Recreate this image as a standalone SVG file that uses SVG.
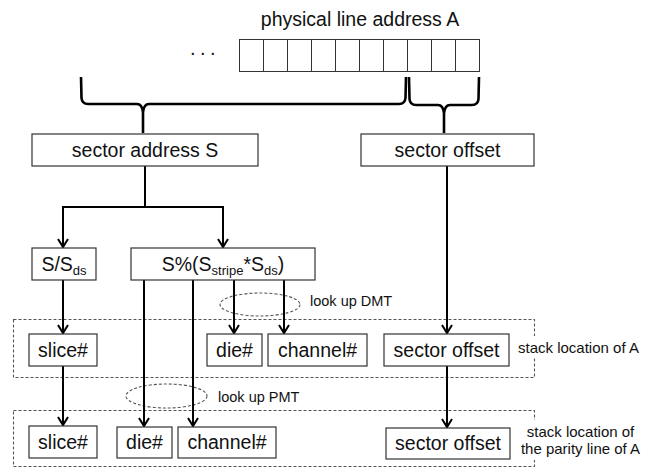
<svg xmlns="http://www.w3.org/2000/svg" width="657" height="468" viewBox="0 0 657 468">
<defs>
<style>
text{font-family:"Liberation Sans",Arial,sans-serif;fill:#111}
.box{fill:#fff;stroke:#333;stroke-width:1.2}
.big{font-size:19.5px;text-anchor:middle}
.sub{font-size:13px}
.lbl{font-size:15px}
.conn{fill:none;stroke:#000;stroke-width:2}
.brace{fill:none;stroke:#000;stroke-width:2.6;stroke-linejoin:round}
.dash{fill:none;stroke:#555;stroke-width:1.1;stroke-dasharray:3 2}
.cell{fill:none;stroke:#333;stroke-width:1}
</style>
<marker id="arr" markerUnits="userSpaceOnUse" markerWidth="14" markerHeight="14" viewBox="-9 -7 11 14" refX="0" refY="0" orient="auto">
<path d="M-8,-5 L0,0 L-8,5" fill="none" stroke="#000" stroke-width="2"/>
</marker>
</defs>
<rect width="657" height="468" fill="#fff"/>

<g id="register">
<text x="360" y="26" class="big">physical line address A</text>
<text x="190" y="55" style="font-size:20px;letter-spacing:4.4px">...</text>
<rect class="cell" x="239.5" y="39.5" width="240" height="32"/>
<path class="cell" d="M263.5,39.5V71.5M287.5,39.5V71.5M311.5,39.5V71.5M335.5,39.5V71.5M359.5,39.5V71.5M383.5,39.5V71.5M407.5,39.5V71.5M431.5,39.5V71.5M455.5,39.5V71.5"/>
</g>

<g id="groups">
<rect class="dash" x="13.5" y="319.5" width="521" height="58"/>
<rect class="dash" x="13.5" y="410.5" width="521" height="56"/>
<ellipse class="dash" cx="260" cy="304.5" rx="40" ry="11.5"/>
<ellipse class="dash" cx="166.5" cy="396" rx="40.5" ry="12"/>
<text x="310" y="306" style="font-size:14.5px">look up DMT</text>
<text x="218" y="402" style="font-size:14.5px">look up PMT</text>
<rect x="516" y="336" width="128" height="22" fill="#fff"/>
<text x="518" y="353" class="lbl">stack location of A</text>
<rect x="516" y="420" width="128" height="40" fill="#fff"/>
<text x="580.5" y="437" class="lbl" text-anchor="middle">stack location of</text>
<text x="580.5" y="454" class="lbl" text-anchor="middle">the parity line of A</text>
</g>

<g id="connectors">
<path class="brace" d="M81,77 L81.5,98 Q82,104 88,104 L137,104 Q142,104 143,112 L143,133 M143,112 Q144,104 149,104 L399,104 Q405,104 405.5,98 L406,77"/>
<path class="brace" d="M409,77 L409.5,99 Q410,105 416,105 L438,105 Q443,105 444,113 L444,133 M444,113 Q445,105 450,105 L472,105 Q478,105 478.5,99 L479,77"/>
<path class="conn" marker-end="url(#arr)" d="M145,166 V207 H63 V247"/>
<path class="conn" marker-end="url(#arr)" d="M145,207 H223 V247"/>
<path class="conn" marker-end="url(#arr)" d="M447,166 V333"/>
<path class="conn" marker-end="url(#arr)" d="M63,280 V333"/>
<path class="conn" marker-end="url(#arr)" d="M63,366 V425"/>
<path class="conn" marker-end="url(#arr)" d="M144,280 V426"/>
<path class="conn" marker-end="url(#arr)" d="M193,280 V426"/>
<path class="conn" marker-end="url(#arr)" d="M234,280 V333"/>
<path class="conn" marker-end="url(#arr)" d="M284,280 V333"/>
<path class="conn" marker-end="url(#arr)" d="M447,366 V427"/>
</g>

<g id="sector-address">
<rect class="box" x="32" y="134" width="226" height="32"/>
<text x="145" y="157" class="big">sector address S</text>
</g>
<g id="sector-offset">
<rect class="box" x="361" y="134" width="173" height="32"/>
<text x="447.5" y="157" class="big">sector offset</text>
</g>
<g id="s-div">
<rect class="box" x="32" y="248" width="64" height="32"/>
<text x="64" y="271" class="big">S/S<tspan class="sub" dy="4">ds</tspan></text>
</g>
<g id="s-mod">
<rect class="box" x="131" y="248" width="184" height="32"/>
<text x="223" y="271" class="big">S%(S<tspan class="sub" dy="4">stripe</tspan><tspan dy="-4">*S</tspan><tspan class="sub" dy="4">ds</tspan><tspan dy="-4">)</tspan></text>
</g>
<g id="slice-a">
<rect class="box" x="29" y="334" width="68" height="32"/>
<text x="63" y="357" class="big">slice#</text>
</g>
<g id="die-a">
<rect class="box" x="207" y="334" width="55" height="32"/>
<text x="234.5" y="357" class="big">die#</text>
</g>
<g id="channel-a">
<rect class="box" x="268" y="334" width="99" height="32"/>
<text x="317.5" y="357" class="big">channel#</text>
</g>
<g id="offset-a">
<rect class="box" x="384" y="334" width="125" height="32"/>
<text x="446.5" y="357" class="big">sector offset</text>
</g>
<g id="slice-p">
<rect class="box" x="29" y="426" width="68" height="32"/>
<text x="63" y="449" class="big">slice#</text>
</g>
<g id="die-p">
<rect class="box" x="117" y="427" width="55" height="31"/>
<text x="144.5" y="449" class="big">die#</text>
</g>
<g id="channel-p">
<rect class="box" x="178" y="427" width="98" height="31"/>
<text x="227" y="449" class="big">channel#</text>
</g>
<g id="offset-p">
<rect class="box" x="386" y="428" width="124" height="31"/>
<text x="448" y="450" class="big">sector offset</text>
</g>
</svg>
